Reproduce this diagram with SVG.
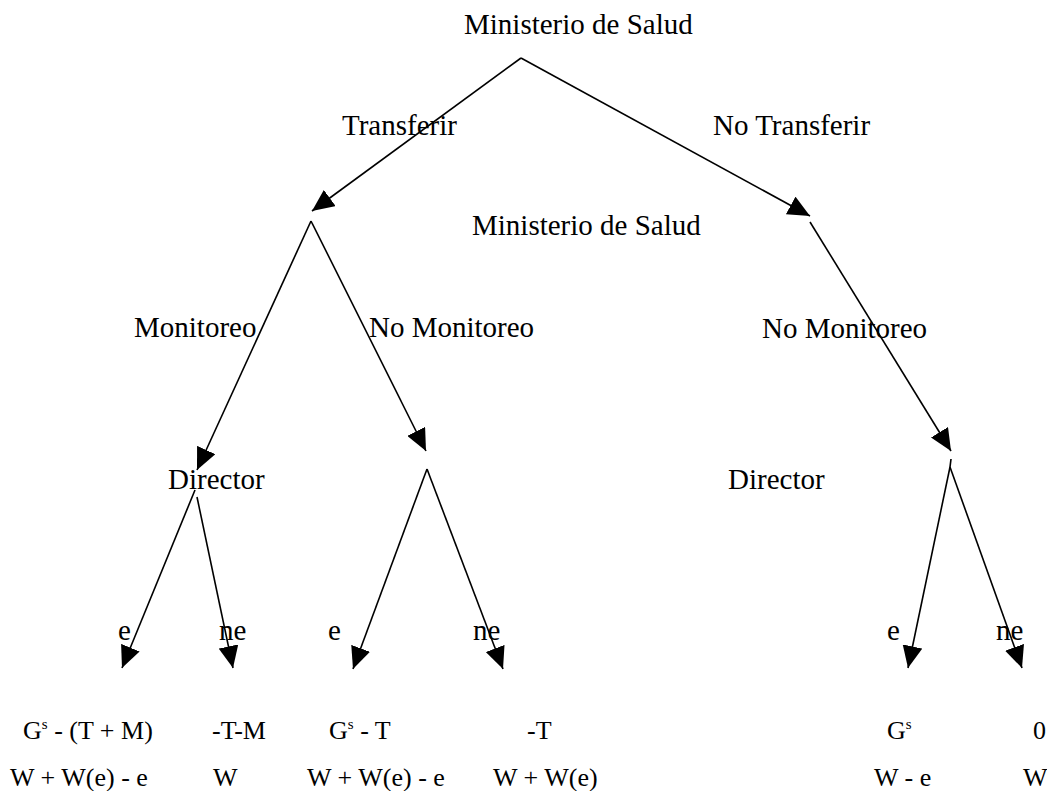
<svg xmlns="http://www.w3.org/2000/svg" width="1047" height="791" viewBox="0 0 1047 791">
<style>
text{font-family:"Liberation Serif","Times New Roman",serif;fill:#000}
.l{font-size:29px}
.p{font-size:26px}
.sup{font-size:15px}
.c{stroke:#000;stroke-width:1.6;fill:none}
</style>
<defs>
<marker id="ah" markerUnits="userSpaceOnUse" markerWidth="22" markerHeight="20" refX="22" refY="10" orient="auto" viewBox="0 0 22 20">
<path d="M0,0 L22,10 L0,20 z" fill="#000"/>
</marker>
</defs>
<rect width="1047" height="791" fill="#fff"/>
<g id="connectors">
<line class="c" x1="521" y1="58" x2="312" y2="211" marker-end="url(#ah)"/>
<line class="c" x1="521" y1="58" x2="810" y2="216" marker-end="url(#ah)"/>
<line class="c" x1="810" y1="222" x2="951" y2="451" marker-end="url(#ah)"/>
<line class="c" x1="951" y1="459" x2="950" y2="467"/>
<line class="c" x1="950" y1="467" x2="908" y2="668" marker-end="url(#ah)"/>
<line class="c" x1="950" y1="467" x2="1022" y2="668" marker-end="url(#ah)"/>
<line class="c" x1="311" y1="221" x2="197" y2="470" marker-end="url(#ah)"/>
<line class="c" x1="311" y1="221" x2="426" y2="451" marker-end="url(#ah)"/>
<line class="c" x1="195" y1="490" x2="122" y2="668" marker-end="url(#ah)"/>
<line class="c" x1="197" y1="497" x2="233" y2="668" marker-end="url(#ah)"/>
<line class="c" x1="427" y1="469" x2="353" y2="669" marker-end="url(#ah)"/>
<line class="c" x1="427" y1="469" x2="503" y2="669" marker-end="url(#ah)"/>
</g>
<g id="root"><text class="l" x="464" y="34">Ministerio de Salud</text></g>
<g id="edge-labels">
<text class="l" x="342" y="135">Transferir</text>
<text class="l" x="713" y="135">No Transferir</text>
<text class="l" x="134" y="337">Monitoreo</text>
<text class="l" x="369" y="337">No Monitoreo</text>
<text class="l" x="762" y="338">No Monitoreo</text>
<text class="l" x="118" y="640">e</text>
<text class="l" x="219" y="640">ne</text>
<text class="l" x="328" y="640">e</text>
<text class="l" x="473" y="640">ne</text>
<text class="l" x="887" y="640">e</text>
<text class="l" x="996" y="640">ne</text>
</g>
<g id="node-transferir"><text class="l" x="472" y="235">Ministerio de Salud</text></g>
<g id="node-monitoreo"><text class="l" x="168" y="489">Director</text></g>
<g id="node-nomonitoreo-right"><text class="l" x="728" y="489">Director</text></g>
<g id="payoff-1"><text class="p" x="23" y="739">G<tspan class="sup" dy="-10">s</tspan><tspan dy="10"> - (T + M)</tspan></text><text class="p" x="10" y="786">W + W(e) - e</text></g>
<g id="payoff-2"><text class="p" x="212" y="739">-T-M</text><text class="p" x="213" y="786">W</text></g>
<g id="payoff-3"><text class="p" x="329" y="739">G<tspan class="sup" dy="-10">s</tspan><tspan dy="10"> - T</tspan></text><text class="p" x="307" y="786">W + W(e) - e</text></g>
<g id="payoff-4"><text class="p" x="527" y="739">-T</text><text class="p" x="493" y="786">W + W(e)</text></g>
<g id="payoff-5"><text class="p" x="887" y="739">G<tspan class="sup" dy="-10">s</tspan></text><text class="p" x="874" y="786">W - e</text></g>
<g id="payoff-6"><text class="p" x="1033" y="739">0</text><text class="p" x="1023" y="786">W</text></g>
</svg>
